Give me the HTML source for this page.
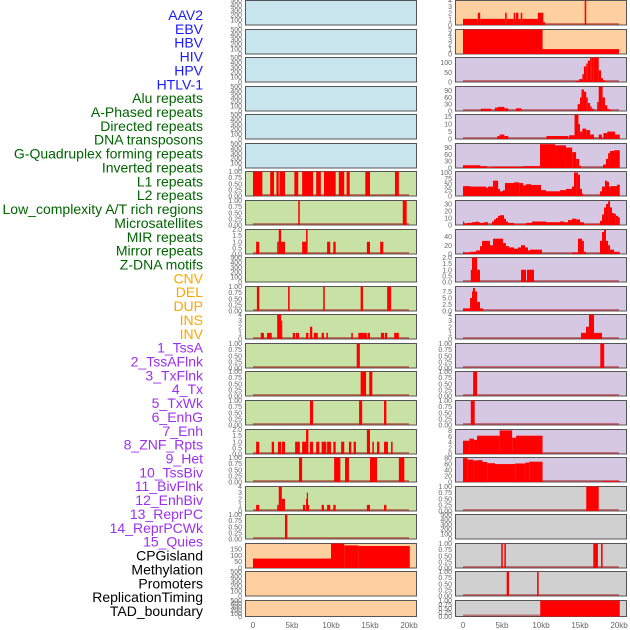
<!DOCTYPE html>
<html><head><meta charset="utf-8"><style>
html,body{margin:0;padding:0;background:#fff;}
svg{display:block;font-family:"Liberation Sans",sans-serif;}
</style></head><body>
<svg id="chart" width="630" height="630" viewBox="0 0 630 630" xmlns="http://www.w3.org/2000/svg">
<g id="labels"></g>
<g id="panels"></g>
<g id="xaxis"></g>
</svg>
<script>
const trackLabels=["AAV2","EBV","HBV","HIV","HPV","HTLV-1","Alu repeats","A-Phased repeats","Directed repeats","DNA transposons","G-Quadruplex forming repeats","Inverted repeats","L1 repeats","L2 repeats","Low_complexity A/T rich regions","Microsatellites","MIR repeats","Mirror repeats","Z-DNA motifs","CNV","DEL","DUP","INS","INV","1_TssA","2_TssAFlnk","3_TxFlnk","4_Tx","5_TxWk","6_EnhG","7_Enh","8_ZNF_Rpts","9_Het","10_TssBiv","11_BivFlnk","12_EnhBiv","13_ReprPC","14_ReprPCWk","15_Quies","CPGisland","Methylation","Promoters","ReplicationTiming","TAD_boundary"];
const labelGroups=[6,13,5,15,5];
const xTickVals=[0,5,10,15,20];
const xTickText=["0","5kb","10kb","15kb","20kb"];

const L6_edges=[0,1.2,2.2,2.7,3,3.3,3.4,4.1,5.3,5.8,6.3,7.7,8.1,8.7,9.1,10.6,11,11.7,12,12.4,14.4,15,18.2,18.7];
const L6_vals=[1,0,1,0,1,0,1,0,1,0,1,0,1,0,1,0,1,0,1,0,1,0,1];
const L7_edges=[5.8,6.0,19.2,19.7];
const L7_vals=[1,0,1];
const L8_edges=[0.4,0.8,3.1,3.3,3.6,4.1,6.3,6.8,7.0,9.5,9.9,10.3,10.6,14.6,15.0,16.3,16.7];
const L8_vals=[1,0,1,2,1,0,1,2,0,1,0,1,0,1,0,1];
const L10_edges=[0.5,0.8,4.5,4.7,9.0,9.2,13.8,14.1,17.2,17.7];
const L10_vals=[1,0,1,0,1,0,1,0,1];
const L11_edges=[1.0,1.4,1.8,2.4,3.1,3.6,3.7,5.1,5.4,5.5,5.9,6.8,7.1,7.3,7.6,7.8,8.3,8.8,9.1,9.4,9.6,12.6,12.8,13.5,14.6,14.7,15.0,16.4,16.8,16.9,17.2,18.1,18.7];
const L11_vals=[1,0,1,0,4,3,0,1,0,1,0,1,0,2,0,1,0,1,0,1,0,1,0,1,0,1,0,1,0,1,0,1];
const L12_edges=[13.3,13.7];
const L12_vals=[1];
const L13_edges=[13.8,14.5,14.9,15.3];
const L13_vals=[1,0,1];
const L14_edges=[7.3,7.7,13.6,14.0,16.8,17.1];
const L14_vals=[1,0,1,0,1];
const L15_edges=[0.4,0.8,2.4,2.7,3.2,3.6,3.7,4.1,5.4,6.0,6.3,6.8,7.1,7.3,7.7,8.1,8.5,8.8,9.4,9.5,10.0,10.3,10.6,11.3,11.7,12.3,12.6,12.9,13.2,14.6,15.0,15.3,15.5,15.9,16.2,16.8,17.3,17.7,17.9];
const L15_vals=[1,0,1,0,1,0,1,0,1,0,1,2,0,1,0,1,0,1,0,1,0,1,0,1,0,1,0,1,0,2,0,1,0,1,0,1,0,1];
const L16_edges=[5.9,6.3,10.4,11.2,11.8,12.3,15.0,15.9,18.7,19.4];
const L16_vals=[1,0,1,0,1,0,1,0,1];
const L17_edges=[0.4,0.8,3.1,3.3,3.7,4.1,6.4,6.7,6.8,6.9,7.0,7.2,8.8,9.1,9.5,9.9,10.3,10.6,14.6,15.0,16.8,17.1];
const L17_vals=[1,0,1,4,2,0,1,0,2,3,1,0,1,0,1,0,1,0,1,0,1];
const L18_edges=[4.1,4.4];
const L18_vals=[1];
const L19_edges=[0,10,11.7,13.5,20.1];
const L19_vals=[75,195,180,175];

const R0_edges=[0,1.9,2.2,5.4,5.6,6.5,6.7,6.8,7.1,7.4,7.6,9.6,10.3,10.5,15.6,15.8];
const R0_vals=[1,2,1,2,1,2,1,2,1,2,1,2,0.5,0,4];
const R1_edges=[0,10.2,20.0];
const R1_vals=[5,1];
const R2_edges=[14.4,14.9,15.3,15.5,15.8,16.0,16.3,16.5,16.7,17.4,17.7,17.95,18.2,18.7];
const R2_vals=[5,15,40,80,95,110,125,126,126,60,20,8,3];
const R3_edges=[2.3,3.6,4.1,4.5,5.3,5.8,6.8,7.5,14.7,15.0,15.2,15.5,15.8,16.0,16.3,16.5,16.8,17.2,17.4,17.9,18.2,18.5,18.7,19.0];
const R3_vals=[10,0,15,18,12,0,12,0,30,60,95,85,60,35,20,10,0,40,110,60,25,10,5];
const R4_edges=[4.4,4.7,5.3,5.8,10.7,13.5,13.6,14.3,14.8,15.0,15.3,15.8,16.3,16.8,17.4,17.8,18.0,18.5,19.5,20.1];
const R4_vals=[2,3,2,0,2,0,2.5,17,10,5,7,6,3,0,3,0,4,5,3];
const R5_edges=[0,2.2,3.1,3.85,7.7,9.87,11.8,13.2,14.0,14.5,14.9,15.13,17.95,18.33,18.6,18.85,19.36,20.1];
const R5_vals=[12,8,3,5,8,105,100,90,70,40,10,0,15,40,65,75,78];
const R6_edges=[0,0.9,2.05,2.95,3.2,3.85,4.5,4.74,5.13,5.38,5.9,6.54,7.2,7.7,8.08,8.72,10.0,10.64,12.44,13.2,13.97,14.23,14.5,14.74,15.0,15.26,15.38,17.56,17.82,18.2,18.46,18.72,18.97,19.74,20.1];
const R6_vals=[42,40,40,35,40,65,30,20,25,55,55,58,55,45,50,47,25,20,25,30,40,100,100,90,30,10,0,20,40,65,60,40,42,48];
const R7_edges=[0,0.13,0.5,1.15,1.67,1.92,2.18,2.69,3.2,3.72,3.97,4.23,4.49,4.74,5.26,5.51,5.77,6.54,8.08,8.85,10.64,11.15,12.44,12.95,13.46,13.97,14.5,15.0,15.5,17.56,17.82,18.08,18.33,18.6,18.85,19.1,19.36,19.6,19.87,20.1];
const R7_vals=[5,2,3,4,5,4,3,4,0,5,8,10,13,14,9,5,3,1,3,5,4,4,5,4,7,9,8,4,1,6,15,25,30,34,25,17,16,13,11];
const R8_edges=[0,0.13,0.9,1.67,2.18,2.44,2.69,3.46,3.85,5.13,5.51,5.9,6.54,7.05,7.44,7.95,8.33,8.59,10.13,13.97,14.74,15.26,15.5,15.77,17.56,17.82,18.08,18.33,18.6,18.85,19.36,20.1];
const R8_vals=[5,3,5,8,18,30,30,20,35,25,18,15,12,15,20,15,8,10,0,3,35,30,5,0,30,50,55,30,20,10,5];
const R9_edges=[1.0,1.15,1.8,2.18,7.44,8.08,8.2,9.1];
const R9_vals=[1,2,1,0,1,0,1];
const R10_edges=[0,0.9,1.15,1.28,1.54,1.8,2.18,2.56];
const R10_vals=[1,5,7.5,8.8,7.5,3.5,1];
const R11_edges=[15.13,15.77,16.15,16.8,17.82];
const R11_vals=[1,2,4,1];
const R12_edges=[17.6,18.1];
const R12_vals=[1];
const R13_edges=[1.3,1.8];
const R13_vals=[1];
const R14_edges=[1.0,1.5];
const R14_vals=[1];
const R15_edges=[0,0.8,1.4,1.8,4.7,6.3,6.8,10.2];
const R15_vals=[4.5,5.2,4.8,6.2,8,5.5,6.2];
const R16_edges=[0,0.6,1.3,1.8,2.5,3.1,4.1,6.7,8.0,8.5,10.2,18.0,20.2];
const R16_vals=[80,75,72,73,67,63,60,62,65,68,0,3];
const R17_edges=[15.8,17.4];
const R17_vals=[1];
const R19_edges=[4.9,5.1,5.3,5.5,16.7,17.3,17.7,17.9];
const R19_vals=[1,0,1,0,1,0,1];
const R20_edges=[5.6,5.9,9.5,9.7];
const R20_vals=[1,0,1];
const R21_edges=[9.9,20.1];
const R21_vals=[1];

const T_EMPTY=[0,100,200,300,400,500];
const T_Q=[0,0.25,0.5,0.75,1];
const T_2=[0,0.5,1,1.5,2];
const T_4=[0,1,2,3,4];

const NS="http://www.w3.org/2000/svg";
function mk(tag,attrs,parent){const e=document.createElementNS(NS,tag);for(const k in attrs)e.setAttribute(k,attrs[k]);parent.appendChild(e);return e;}

// labels
const labColors=["#1a1aff","#006400","#ffa500","#9b30f0","#000000"];
const lg=document.getElementById('labels');
let gi=0,cnt=0;
trackLabels.forEach((t,i)=>{
  if(cnt>=labelGroups[gi]){gi++;cnt=0;}
  cnt++;
  const el=mk('text',{x:203,y:15+i*13.86+5,'text-anchor':'end','font-size':'14',fill:labColors[gi]},lg);
  
  
  el.textContent=t;
});

const BG={blue:"#c8e4ec",green:"#c8e1a5",orange:"#ffd09f",purple:"#d6c7e2",grey:"#d0d0d0"};
function fmt(v,ticks){
  const step=ticks[1]-ticks[0];
  if(step<0.5) return v.toFixed(2);
  if(step%1!==0 || ticks.some(t=>t%1!==0)) return v.toFixed(1);
  return String(v);
}
function panel(side,row,bg,ymax,ticks,edges,vals){
  const pg=document.getElementById('panels');
  const x0=side==='L'?245:455, w=171;
  const top=Math.round(row*28.57), h=row===21?16:24.5;
  const g=mk('g',{},pg);
  
  
  const bgr=mk('rect',{x:x0+0.5,y:top+0.5,width:w,height:h,fill:BG[bg],stroke:"#555",'stroke-width':1},g);
  
  
  const xs=kb=>(side==='L'?253:463)+kb*7.8;
  const ys=v=>top+0.5+h-Math.min(v,ymax)/ymax*h;
  ticks.forEach(t=>{
    const tl=mk('text',{x:x0-3,y:ys(t)+2.5,'text-anchor':'end','font-size':'7',fill:'#666'},g);
    
    
    tl.textContent=fmt(t,ticks);
  });
  if(edges){
    const bl=mk('rect',{x:xs(0),y:top+h-1.5,width:xs(20)-xs(0),height:2,fill:'rgba(160,0,0,0.45)'},g);
    
    
    vals.forEach((v,i)=>{
      if(v<=0) return;
      const a=xs(edges[i]),b=xs(edges[i+1]);
      const r=mk('rect',{x:a,y:ys(v),width:Math.max(b-a,1.2),height:top+0.5+h-ys(v),fill:'#ff0000'},g);
      
      
    });
  }
}
for(let i=0;i<6;i++) panel('L',i,'blue',500,T_EMPTY,null,null);
panel('L',6,'green',1,T_Q,L6_edges,L6_vals);
panel('L',7,'green',1,T_Q,L7_edges,L7_vals);
panel('L',8,'green',2,T_2,L8_edges,L8_vals);
panel('L',9,'green',500,T_EMPTY,null,null);
panel('L',10,'green',1,T_Q,L10_edges,L10_vals);
panel('L',11,'green',4,T_4,L11_edges,L11_vals);
panel('L',12,'green',1,T_Q,L12_edges,L12_vals);
panel('L',13,'green',1,T_Q,L13_edges,L13_vals);
panel('L',14,'green',1,T_Q,L14_edges,L14_vals);
panel('L',15,'green',2,T_2,L15_edges,L15_vals);
panel('L',16,'green',1,T_Q,L16_edges,L16_vals);
panel('L',17,'green',4,T_4,L17_edges,L17_vals);
panel('L',18,'green',1,T_Q,L18_edges,L18_vals);
panel('L',19,'orange',195,[0,50,100,150],L19_edges,L19_vals);
panel('L',20,'orange',500,T_EMPTY,null,null);
panel('L',21,'orange',500,T_EMPTY,null,null);

panel('R',0,'orange',4,T_4,R0_edges,R0_vals);
panel('R',1,'orange',5,[0,1,2,3,4,5],R1_edges,R1_vals);
panel('R',2,'purple',126,[0,50,100],R2_edges,R2_vals);
panel('R',3,'purple',108,[0,30,60,90],R3_edges,R3_vals);
panel('R',4,'purple',16.5,[0,5,10,15],R4_edges,R4_vals);
panel('R',5,'purple',108,[0,30,60,90],R5_edges,R5_vals);
panel('R',6,'purple',104,[0,25,50,75,100],R6_edges,R6_vals);
panel('R',7,'purple',35,[0,10,20,30],R7_edges,R7_vals);
panel('R',8,'purple',56,[0,20,40],R8_edges,R8_vals);
panel('R',9,'purple',2,T_2,R9_edges,R9_vals);
panel('R',10,'purple',9.4,[0,2.5,5,7.5],R10_edges,R10_vals);
panel('R',11,'purple',4,T_4,R11_edges,R11_vals);
panel('R',12,'purple',1,T_Q,R12_edges,R12_vals);
panel('R',13,'purple',1,T_Q,R13_edges,R13_vals);
panel('R',14,'purple',1,T_Q,R14_edges,R14_vals);
panel('R',15,'purple',8.3,[0,2,4,6,8],R15_edges,R15_vals);
panel('R',16,'purple',82,[0,20,40,60,80],R16_edges,R16_vals);
panel('R',17,'grey',1,T_Q,R17_edges,R17_vals);
panel('R',18,'grey',500,T_EMPTY,null,null);
panel('R',19,'grey',1,T_Q,R19_edges,R19_vals);
panel('R',20,'grey',1,T_Q,R20_edges,R20_vals);
panel('R',21,'grey',1,T_Q,R21_edges,R21_vals);

const xg=document.getElementById('xaxis');
[253,463].forEach(base=>{
  xTickVals.forEach((v,i)=>{
    const t=mk('text',{x:base+v*7.8,y:628,'text-anchor':'middle','font-size':'8',fill:'#666'},xg);
    
    
    t.textContent=xTickText[i];
  });
});
</script>
</body></html>
